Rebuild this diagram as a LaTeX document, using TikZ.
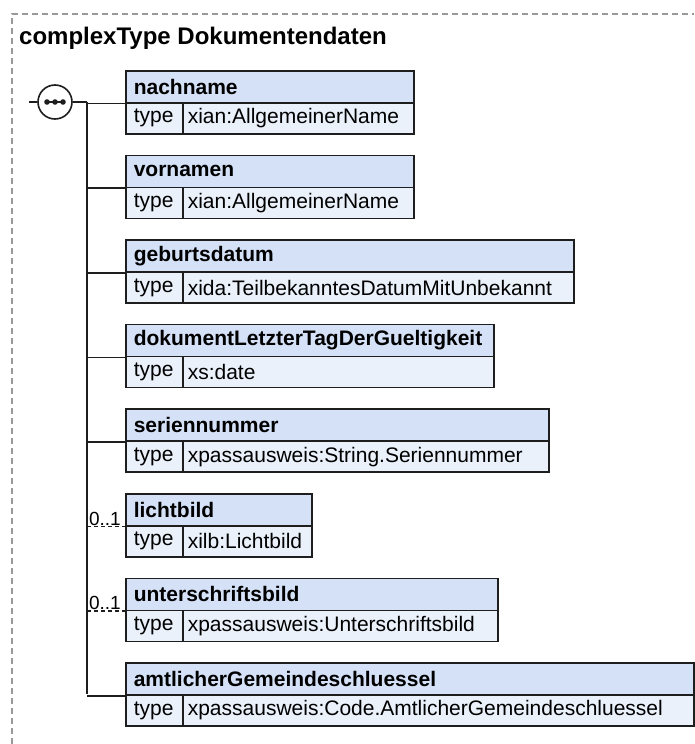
\documentclass[tikz,border=0pt]{standalone}
\usepackage{fontspec}
\setmainfont{Liberation Sans}
\usetikzlibrary{calc}
\definecolor{hdrfill}{HTML}{D4E1F7}
\definecolor{typfill}{HTML}{EAF1FB}
\definecolor{edge}{HTML}{1E1E1E}
\definecolor{frame}{HTML}{999999}
\tikzset{
  boxline/.style={draw=edge, line width=1.6pt},
  hdrbox/.style={boxline, fill=hdrfill, rectangle, anchor=north west, minimum height=32pt,
    inner xsep=8pt, inner ysep=0pt, align=left, font=\fontsize{21}{24}\selectfont\bfseries},
  typekey/.style={boxline, fill=typfill, rectangle, anchor=north west, minimum height=31pt,
    inner xsep=8pt, inner ysep=0pt, text width=41pt, align=left, font=\fontsize{21}{24}\selectfont},
  typeval/.style={boxline, fill=typfill, rectangle, anchor=north west, minimum height=31pt,
    inner xsep=5pt, inner ysep=0pt, align=left, font=\fontsize{21}{24}\selectfont},
  conn/.style={draw=edge, line width=1.6pt},
  optconn/.style={draw=edge, line width=1.6pt, dash pattern=on 4pt off 3pt},
  occ/.style={font=\fontsize{19}{22}\selectfont, anchor=south east, inner sep=1pt},
  title/.style={font=\fontsize{24}{28}\selectfont\bfseries, anchor=base west, inner sep=0pt},
}
\newcommand\xelem[5]{% id, top, right, name, type
  \pgfmathsetmacro\hw{#3-125-16}
  \pgfmathsetmacro\vw{#3-182-10}
  \node[hdrbox, text width=\hw pt] (#1) at (125,#2) {#4};
  \node[typekey] (#1k) at (125,#2+32) {type};
  \node[typeval, text width=\vw pt] (#1v) at (182,#2+32) {#5};
}
\begin{document}
\begin{tikzpicture}[x=1pt,y=-1pt]
\useasboundingbox (0,0) rectangle (694,744);
\draw[frame, line width=1.1pt, dash pattern=on 6pt off 4pt] (12,744) -- (12,14) -- (694,14);
\node[title] (ttl) at (19,44) {complexType Dokumentendaten};

\xelem{e1}{70}{413}{nachname}{xian:AllgemeinerName}
\xelem{e2}{154.6}{413}{vornamen}{xian:AllgemeinerName}
\xelem{e3}{239.2}{573}{geburtsdatum}{xida:TeilbekanntesDatumMitUnbekannt}
\xelem{e4}{323.8}{493}{dokumentLetzterTagDerGueltigkeit}{xs:date}
\xelem{e5}{408.4}{548}{seriennummer}{xpassausweis:String.Seriennummer}
\xelem{e6}{493}{311}{lichtbild}{xilb:Lichtbild}
\xelem{e7}{577.6}{497}{unterschriftsbild}{xpassausweis:Unterschriftsbild}
\xelem{e8}{662.2}{693}{amtlicherGemeindeschluessel}{xpassausweis:Code.AmtlicherGemeindeschluessel}

% sequence compositor
\coordinate (stub) at (29,102);
\node[circle, draw=edge, line width=1.6pt, fill=white, minimum size=34pt, inner sep=0pt] (seq) at (55,102) {};
\draw[conn] (stub) -- (seq.west);
\draw[edge, line width=1.4pt] ($(seq.center)+(-9,0)$) -- ($(seq.center)+(9,0)$);
\foreach \dx in {-8,0,8} \fill[edge] ($(seq.center)+(\dx,0)$) circle (2.8pt);
\coordinate (trunktop) at (87,102);
\coordinate (trunkbot) at (87,694.2);
\draw[conn] (seq.east) -- (trunktop);
\draw[conn] (trunktop) -- (trunkbot);
\foreach \e in {e1,e2,e3,e4,e5,e8} \draw[conn] (87,0 |- \e.south west) -- (\e.south west);
\foreach \e in {e6,e7} {
  \draw[optconn] (87,0 |- \e.south west) -- (\e.south west);
  \node[occ] (\e o) at ($(\e.south west)+(-3,0)$) {0..1};
}
\end{tikzpicture}
\end{document}
